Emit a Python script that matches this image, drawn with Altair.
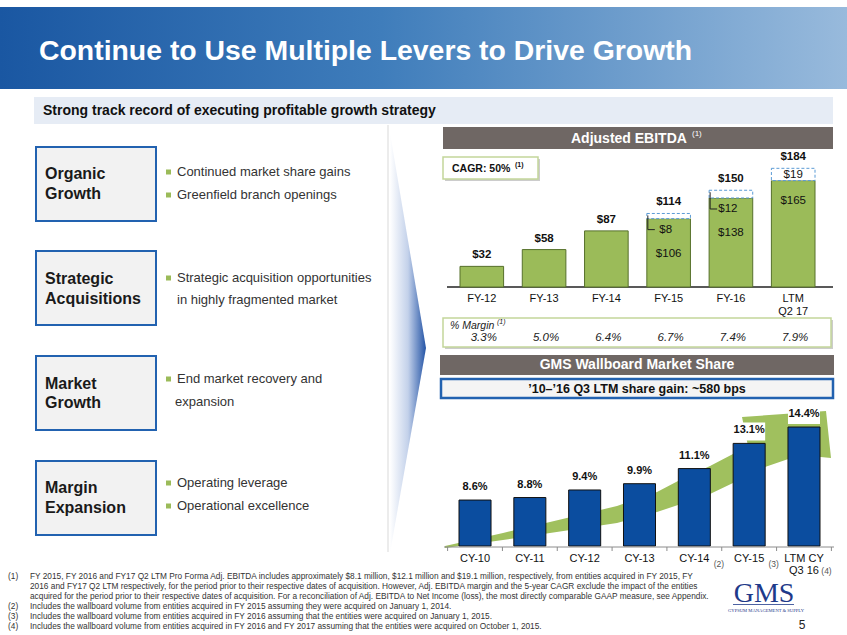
import altair as alt
import pandas as pd

# ---------------- chart values ----------------
ebitda_cats = ["FY-12", "FY-13", "FY-14", "FY-15", "FY-16", "LTM Q2 17"]
ebitda_tick_labels = ["FY-12", "FY-13", "FY-14", "FY-15", "FY-16", "LTM\nQ2 17"]
ebitda_base = [32, 58, 87, 106, 138, 165]
ebitda_acquired = [0, 0, 0, 8, 12, 19]
ebitda_total = [32, 58, 87, 114, 150, 184]
ebitda_margin = ["3.3%", "5.0%", "6.4%", "6.7%", "7.4%", "7.9%"]

wb_cats = ["CY-10", "CY-11", "CY-12", "CY-13", "CY-14", "CY-15", "LTM CY Q3 16"]
wb_tick_labels = ["CY-10", "CY-11", "CY-12", "CY-13", "CY-14", "CY-15", "LTM CY\nQ3 16"]
wb_share = [8.6, 8.8, 9.4, 9.9, 11.1, 13.1, 14.4]
wb_notes = ["", "", "", "", "(2)", "(3)", "(4)"]

title_text = "Continue to Use Multiple Levers to Drive Growth"
subtitle_text = "Strong track record of executing profitable growth strategy"
lever_titles = [["Organic", "Growth"], ["Strategic", "Acquisitions"],
                ["Market", "Growth"], ["Margin", "Expansion"]]
lever_bullets = [
    [("Continued market share gains", True), ("Greenfield branch openings", True)],
    [("Strategic acquisition opportunities", True), ("in highly fragmented market", False)],
    [("End market recovery and", True), ("expansion", False)],
    [("Operating leverage", True), ("Operational excellence", True)],
]
footnote_nums = ["(1)", "", "", "(2)", "(3)", "(4)"]
footnote_lines = [
    "FY 2015, FY 2016 and FY17 Q2 LTM Pro Forma Adj. EBITDA includes approximately $8.1 million, $12.1 million and $19.1 million, respectively, from entities acquired in FY 2015, FY",
    "2016 and FY17 Q2 LTM respectively, for the period prior to their respective dates of acquisition. However, Adj. EBITDA margin and the 5-year CAGR exclude the impact of the entities",
    "acquired for the period prior to their respective dates of acquisition. For a reconciliation of Adj. EBITDA to Net Income (loss), the most directly comparable GAAP measure, see Appendix.",
    "Includes the wallboard volume from entities acquired in FY 2015 assuming they were acquired on January 1, 2014.",
    "Includes the wallboard volume from entities acquired in FY 2016 assuming that the entities were acquired on January 1, 2015.",
    "Includes the wallboard volume from entities acquired in FY 2016 and FY 2017 assuming that the entities were acquired on October 1, 2015.",
]

# ---------------- styles ----------------
SANS = "Liberation Sans"
SERIF = "Liberation Serif"
GREEN = "#9bbb59"
GREEN_DK = "#56702b"
BAR_BLUE = "#0b4d9f"
BOX_BLUE = "#2262b0"
HDR = "#6f6764"
ONE = alt.Data(values=[{"k": 1}])

layers = []


def txt(s, x, y, size=12, weight="normal", color="#222222", align="left",
        baseline="middle", font=SANS, style="normal"):
    layers.append(alt.Chart(ONE).mark_text(
        text=s, fontSize=size, fontWeight=weight, color=color, align=align,
        baseline=baseline, font=font, fontStyle=style
    ).encode(x=alt.value(x), y=alt.value(y)))


def rect(x, x2, y, y2, **kw):
    layers.append(alt.Chart(ONE).mark_rect(**kw).encode(
        x=alt.value(x), x2=alt.value(x2), y=alt.value(y), y2=alt.value(y2)))


def rule(x, x2, y, y2, **kw):
    layers.append(alt.Chart(ONE).mark_rule(**kw).encode(
        x=alt.value(x), x2=alt.value(x2), y=alt.value(y), y2=alt.value(y2)))


def shape_layer(pts, cx, cy, s, fill):
    path = "M" + " L".join(f"{(px - cx) / s:.4f},{(py - cy) / s:.4f}" for px, py in pts) + " Z"
    layers.append(alt.Chart(ONE).mark_point(
        shape=path, size=(2 * s) ** 2, filled=True, fill=fill, opacity=1,
        strokeWidth=0).encode(x=alt.value(cx), y=alt.value(cy)))


def grad(stops):
    return alt.LinearGradient(
        gradient="linear", x1=0, x2=1, y1=0, y2=0,
        stops=[alt.GradientStop(color=c, offset=o) for o, c in stops])


# ---------------- header ----------------
rect(0, 847, 7, 89, fill=grad([(0, "#1a57a2"), (0.45, "#3f7dbb"), (1, "#98badc")]))
txt(title_text, 39, 60, size=28.4, weight="bold", color="white", baseline="alphabetic")
rect(34, 833, 97, 124, fill="#e6ecf5")
txt(subtitle_text, 43, 111, size=14, weight="bold", color="#111111")

# ---------------- left column ----------------
rule(388, 388, 125, 552, stroke="#d9d9d9", strokeWidth=1)
shape_layer([(390, 133), (426, 348), (390, 553)], 408, 343, 215,
            grad([(0, "#ffffff"), (0.5, "#c3d1ea"), (1, "#2454a6")]))

box_tops = [147, 251, 356, 461]
title_dy = [[27, 47], [28, 48], [28, 47], [27, 47]]
bullet_dy = [[25, 48], [27, 49], [23, 46], [22, 45]]
for i, top in enumerate(box_tops):
    rect(36, 156, top, top + 74, fill="#f2f2f2", stroke=BOX_BLUE, strokeWidth=2)
    for j, line in enumerate(lever_titles[i]):
        txt(line, 45, top + title_dy[i][j], size=16, weight="bold", color="#1a1a1a")
    for j, (line, has_bullet) in enumerate(lever_bullets[i]):
        yy = top + bullet_dy[i][j]
        if has_bullet:
            layers.append(alt.Chart(ONE).mark_square(size=25, color=GREEN, opacity=1).encode(
                x=alt.value(168.5), y=alt.value(yy)))
        txt(line, 177 if has_bullet or i != 2 else 175, yy, size=13, color="#333333")

# ---------------- Adjusted EBITDA panel ----------------
rect(443, 833, 127, 149, fill=HDR)
txt("Adjusted EBITDA", 571, 139, size=14, weight="bold", color="white")
txt("(1)", 692, 134, size=8, color="white")
rect(445, 540, 159, 181, fill="#cccccc")
rect(443, 538, 157, 179, fill="white", stroke="#c3d69b", strokeWidth=1.5)
txt("CAGR: 50%", 452, 169, size=10.5, weight="bold", color="#111111")
txt("(1)", 515, 165, size=7, weight="bold", color="#111111")
rule(447, 833, 287, 287, stroke="#222222", strokeWidth=1.5)

edf = pd.DataFrame({
    "cat": ebitda_cats, "label": ebitda_tick_labels, "base": ebitda_base,
    "acq": ebitda_acquired, "total": ebitda_total, "margin": ebitda_margin,
})
edf["total_lbl"] = ["$" + str(v) for v in ebitda_total]
edf["base_lbl"] = ["$" + str(v) for v in ebitda_base]
edf["acq_lbl"] = ["$" + str(v) for v in ebitda_acquired]

ex = alt.Scale(type="band", domain=ebitda_cats, range=[460, 815], paddingInner=0.3, paddingOuter=0)
ey = alt.Scale(type="linear", domain=[0, 200], range=[287, 158], zero=False, nice=False)
EX = alt.X("cat:N", scale=ex, axis=None)
EX0 = alt.X("cat:N", scale=ex, axis=None, bandPosition=0)


def EY(f):
    return alt.Y(f, scale=ey, axis=None)


ebase = alt.Chart(edf)
layers.append(ebase.mark_bar(fill=GREEN, stroke=GREEN_DK, strokeWidth=1).encode(
    x=EX, y=EY("base:Q"), y2=alt.datum(0)))
layers.append(ebase.transform_filter("datum.acq > 0").mark_bar(
    fill="white", stroke="#5b9bd5", strokeWidth=1, strokeDash=[3, 2]).encode(
    x=EX, y=EY("total:Q"), y2="base:Q"))
layers.append(ebase.mark_text(font=SANS, fontSize=11.5, fontWeight="bold", color="#111111",
                              baseline="bottom", dy=-6).encode(
    x=EX, y=EY("total:Q"), text="total_lbl:N"))
mid = ebase.transform_filter("datum.acq > 0 && datum.cat != 'LTM Q2 17'")
layers.append(mid.mark_text(font=SANS, fontSize=11.5, color="#111111", dy=35).encode(
    x=EX, y=EY("base:Q"), text="base_lbl:N"))
layers.append(mid.mark_text(font=SANS, fontSize=11.5, color="#111111", dy=11, dx=-3).encode(
    x=EX, y=EY("base:Q"), text="acq_lbl:N"))
layers.append(mid.mark_rule(color="#222222", strokeWidth=1, xOffset=1, yOffset=2, y2Offset=11).encode(
    x=EX0, y=EY("total:Q"), y2="base:Q"))
layers.append(mid.mark_rule(color="#222222", strokeWidth=1, xOffset=1, x2Offset=8, yOffset=11).encode(
    x=EX0, x2=alt.X2("cat:N", bandPosition=0), y=EY("base:Q")))
last = ebase.transform_filter("datum.cat == 'LTM Q2 17'")
layers.append(last.mark_text(font=SANS, fontSize=11.5, color="#111111", dy=20).encode(
    x=EX, y=EY("base:Q"), text="base_lbl:N"))
layers.append(last.mark_text(font=SANS, fontSize=11.5, color="#111111", dy=7).encode(
    x=EX, y=EY("total:Q"), text="acq_lbl:N"))
layers.append(ebase.mark_text(font=SANS, fontSize=11, color="#111111", baseline="top",
                              lineBreak="\n", lineHeight=13).encode(
    x=EX, y=alt.value(293), text="label:N"))

rect(445, 833, 320, 349, fill="#cccccc")
rect(443, 831, 318, 347, fill="white", stroke="#c3d69b", strokeWidth=1.5)
txt("% Margin", 450, 326, size=10.5, style="italic", color="#222222")
txt("(1)", 497, 322, size=7, style="italic", color="#222222")
layers.append(ebase.mark_text(font=SANS, fontSize=11.5, fontStyle="italic", color="#222222", dx=2).encode(
    x=EX, y=alt.value(338), text="margin:N"))

# ---------------- Wallboard panel ----------------
rect(440, 834, 355, 375, fill=HDR)
txt("GMS Wallboard Market Share", 637, 365, size=14, weight="bold", color="white", align="center")
rect(441, 833, 379, 398, fill="#f4f4f4", stroke=BOX_BLUE, strokeWidth=2.5)
txt("\u201910\u2013\u201916 Q3 LTM share gain: ~580 bps", 637, 388.5, size=12.5, weight="bold",
    color="#111111", align="center")

arrow_pts = [(445, 546), (503, 533), (550, 522), (617, 506), (657, 492), (678, 481), (710, 466),
             (733, 454), (748, 446), (742, 417), (826, 411), (831, 458), (800, 455), (765, 467),
             (733, 483), (710, 494), (678, 505), (657, 512), (617, 523), (550, 533), (503, 540),
             (445, 548)]
shape_layer(arrow_pts, 638, 480, 200, "#a0c05e")

wdf = pd.DataFrame({"cat": wb_cats, "label": wb_tick_labels, "share": wb_share, "note": wb_notes})
wdf["share_lbl"] = [f"{v:.1f}%" for v in wb_share]
WB_MIN = 4.95
wx = alt.Scale(type="band", domain=wb_cats, range=[459, 820], paddingInner=0.416, paddingOuter=0)
wy = alt.Scale(type="linear", domain=[WB_MIN, 16], range=[546, 406.9], zero=False, nice=False)
WX = alt.X("cat:N", scale=wx, axis=None)
WY = alt.Y("share:Q", scale=wy, axis=None)
wbase = alt.Chart(wdf)

layers.append(wbase.mark_rect(fill="white", yOffset=-3, y2Offset=-21).encode(
    x=WX, y=WY, y2="share:Q"))
layers.append(wbase.mark_bar(fill=BAR_BLUE, stroke="#111111", strokeWidth=1).encode(
    x=WX, y=WY, y2=alt.datum(WB_MIN)))
layers.append(wbase.mark_text(font=SANS, fontSize=11, fontWeight="bold", color="#111111",
                              baseline="bottom", dy=-8).encode(x=WX, y=WY, text="share_lbl:N"))
rule(444, 834, 547, 547, stroke="#8c8c8c", strokeWidth=1)
layers.append(wbase.mark_rule(color="#8c8c8c", strokeWidth=1, xOffset=-11.4).encode(
    x=alt.X("cat:N", scale=wx, axis=None, bandPosition=0), y=alt.value(547), y2=alt.value(551)))
layers.append(wbase.transform_filter("datum.note == '(4)'").mark_rule(
    color="#8c8c8c", strokeWidth=1, xOffset=11.4).encode(
    x=alt.X("cat:N", scale=wx, axis=None, bandPosition=1), y=alt.value(547), y2=alt.value(551)))
layers.append(wbase.mark_text(font=SANS, fontSize=11, color="#111111", baseline="top",
                              lineBreak="\n", lineHeight=12).encode(
    x=WX, y=alt.value(552.5), text="label:N"))
layers.append(wbase.transform_filter("datum.note == '(2)' || datum.note == '(3)'").mark_text(
    font=SANS, fontSize=8.5, color="#555555", dx=24.5).encode(
    x=WX, y=alt.value(563.5), text="note:N"))
layers.append(wbase.transform_filter("datum.note == '(4)'").mark_text(
    font=SANS, fontSize=8.5, color="#555555", dx=22.5).encode(
    x=WX, y=alt.value(570.5), text="note:N"))

# ---------------- footnotes ----------------
fy = [577, 587, 597, 607, 617, 627]
for num, line, yy in zip(footnote_nums, footnote_lines, fy):
    if num:
        txt(num, 8, yy, size=8.3, color="#333333")
    txt(line, 30, yy, size=8.3, color="#333333")

# ---------------- logo & page number ----------------
txt("GMS", 764, 602, size=28, font=SERIF, color="#1f3a8a", align="center", baseline="alphabetic")
rule(733, 794, 604.5, 604.5, stroke="#1f3a8a", strokeWidth=0.8)
txt("GYPSUM MANAGEMENT & SUPPLY", 766, 610.5, size=4.6, font=SERIF, color="#1f3a8a", align="center")
txt("5", 802, 625, size=12, color="#222222", align="center")

chart = alt.layer(*layers).properties(
    width=847, height=635, padding=0, background="white",
    autosize=alt.AutoSizeParams(type="none"),
).resolve_scale(x="independent", y="independent").configure_view(strokeWidth=0)

chart.save("out.html", embed_options={"renderer": "svg", "actions": False})
